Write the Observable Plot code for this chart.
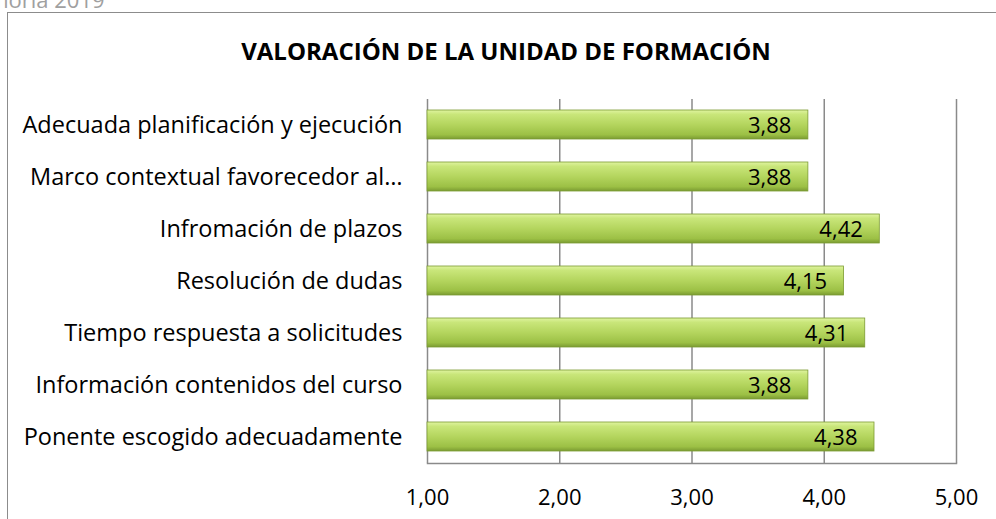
<!DOCTYPE html>
<html>
<head>
<meta charset="utf-8">
<script src="https://cdn.jsdelivr.net/npm/d3@7"></script>
<script src="https://cdn.jsdelivr.net/npm/@observablehq/plot@0.6"></script>
<style>
  html, body { margin: 0; padding: 0; background: #fff; }
  #wrap { position: relative; width: 996px; height: 519px; overflow: hidden; font-family: "Open Sans", sans-serif; }
  #frame { position: absolute; left: 7px; top: 12px; width: 1200px; height: 800px; border-left: 1.5px solid #8c8c8c; border-top: 1.5px solid #8c8c8c; box-sizing: border-box; }
  #note { position: absolute; left: -44px; top: -16px; font-size: 22px; color: #a0a0a0; white-space: nowrap; }
  #title { position: absolute; left: 0; width: 1012px; top: 34px; text-align: center; font-weight: bold; font-size: 24px; color: #000; white-space: nowrap; }
  #chart { position: absolute; left: 0; top: 0; }
</style>
</head>
<body>
<div id="wrap">
  <div id="note">Memoria 2019</div>
  <div id="frame"></div>
  <div id="chart"></div>
  <div id="title">VALORACIÓN DE LA UNIDAD DE FORMACIÓN</div>
</div>
<script>
const categories = [
  "Adecuada planificación y ejecución",
  "Marco contextual favorecedor al…",
  "Infromación de plazos",
  "Resolución de dudas",
  "Tiempo respuesta a solicitudes",
  "Información contenidos del curso",
  "Ponente escogido adecuadamente"
];
const values = [3.88, 3.88, 4.42, 4.15, 4.31, 3.88, 4.38];
const xTicks = [1, 2, 3, 4, 5];

const data = categories.map((c, i) => ({category: c, value: values[i]}));
const fmt = d => d.toFixed(2).replace(".", ",");

const chart = Plot.plot({
  width: 996,
  height: 519,
  marginLeft: 427,
  marginRight: 40,
  marginTop: 99,
  marginBottom: 56,
  style: {fontFamily: "'Open Sans', sans-serif", fontSize: "20px", color: "#000", background: "transparent", overflow: "visible"},
  x: {domain: [1, 5], ticks: xTicks},
  y: {domain: categories, paddingInner: 0.44, paddingOuter: 0.22},
  marks: [
    Plot.gridX(xTicks, {stroke: "#8a8a8a", strokeOpacity: 1, strokeWidth: 1.5}),
    Plot.frame({anchor: "bottom", stroke: "#8a8a8a", strokeWidth: 1.5}),
    Plot.barX(data, {
      y: "category", x1: 1, x2: "value",
      fill: "url(#barGrad)", stroke: "#7c9b33", strokeWidth: 0.8,
      style: {filter: "drop-shadow(2px 3px 2px rgba(0,0,0,0.35))"}
    }),
    Plot.text(data, {
      y: "category", x: "value", text: d => fmt(d.value),
      textAnchor: "end", dx: -17, dy: 1, fontSize: 22, fill: "#000"
    }),
    Plot.axisX(xTicks, {tickSize: 0, tickPadding: 26, tickFormat: fmt, fontSize: 22, label: null}),
    Plot.axisY({tickSize: 0, tickPadding: 25, fontSize: 23.5, label: null})
  ]
});

const ns = "http://www.w3.org/2000/svg";
const defs = document.createElementNS(ns, "defs");
defs.innerHTML = `<linearGradient id="barGrad" x1="0" y1="0" x2="0" y2="1">
  <stop offset="0" stop-color="#e0f4a0"/>
  <stop offset="0.15" stop-color="#c9e67a"/>
  <stop offset="0.5" stop-color="#b4d55e"/>
  <stop offset="0.85" stop-color="#9cc045"/>
  <stop offset="1" stop-color="#7b9b32"/>
</linearGradient>`;
chart.insertBefore(defs, chart.firstChild);
document.getElementById("chart").appendChild(chart);
</script>
</body>
</html>
